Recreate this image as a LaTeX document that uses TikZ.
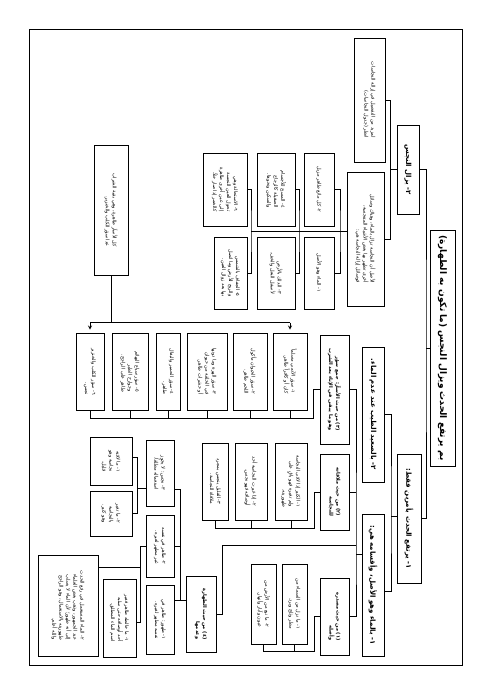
\documentclass[tikz,border=0pt]{standalone}
\usepackage{fontspec}
\newfontfamily\arfont[Script=Arabic]{DejaVu Sans}
\TeXXeTstate=1
\newcommand\arline[1]{\beginR #1\endR}
\tikzset{
  leaf/.style={draw, rotate=-90, line width=0.6pt, inner sep=1pt, align=right,
    font=\arfont\fontsize{4.9}{7}\selectfont},
  sub/.style={leaf, font=\arfont\bfseries\fontsize{5}{7}\selectfont},
  head/.style={leaf, line width=0.8pt, font=\arfont\bfseries\fontsize{7}{8.5}\selectfont},
  sz/.style 2 args={minimum width=#1pt, minimum height=#2pt},
  conn/.style={line width=0.9pt},
}
\begin{document}
\begin{tikzpicture}[x=1pt,y=-1pt]
\useasboundingbox (0,0) rectangle (491,695);
\draw[line width=0.8pt] (29,29) rectangle (462,665);

\node[head, sz={236}{25}, font=\arfont\bfseries\fontsize{9}{10}\selectfont] (T) at (442.5,348)
  {\arline{بم يرتفع الحدث ويزال النجس (ما تكون به الطهارة)}};
\node[head, sz={89}{22}] (B) at (408,169.5) {\arline{٢- يزال النجس}};
\node[head, sz={129}{24}] (C) at (409,518.5) {\arline{١- يرتفع الحدث بأمرين فقط:}};

\node[leaf, sz={124}{31}] (A) at (369.5,100)
  {\arline{لمزيد من التفصيل في إزالة النجاسات}\\\arline{انظر (جدول النجاسات)}};
\node[leaf, sz={134}{37}] (F) at (365.5,239)
  {\arline{الأصل أن النجاسة تزال بالماء، وهناك وسائل}\\\arline{أخرى تطهر بها بعض الأشياء المتنجسة،}\\\arline{فوسائل إزالة النجاسة هي:}};
\node[head, sz={135}{22}] (E) at (373,414.5) {\arline{٢- بالصعيد الطيب عند عدم الماء.}};
\node[head, sz={142}{22}] (D) at (373,585) {\arline{١- بالماء وهو الأصل، وأقسامه هي:}};

\node[leaf, sz={72}{30}] (F1) at (319,273) {\arline{١- الماء وهو الأصل}};
\node[leaf, sz={73}{30}] (F2) at (319,189.5) {\arline{٢- كل مائع طاهر مزيل}};
\node[leaf, sz={72}{38}] (F3) at (276,273)
  {\arline{٣- الدلك بالأرض}\\\arline{لأسفل النعل والخف.}};
\node[leaf, sz={73}{38}] (F4) at (276,189.5)
  {\arline{٤- المسح للأجسام}\\\arline{الصقيلة كالزجاج}\\\arline{والسكين ونحوها.}};
\node[leaf, sz={72}{33}] (F5) at (230.5,273)
  {\arline{٥- الجفاف بالشمس}\\\arline{والريح للأرض وما اتصل}\\\arline{بها بعد زوال العين.}};
\node[leaf, sz={73}{44}] (F6) at (225,189.5)
  {\arline{٦- الاستحالة وهي}\\\arline{تحول العين النجسة}\\\arline{إلى عين أخرى طاهرة}\\\arline{كالخمر إذا صار خلاً.}};

\node[leaf, sz={130}{34}] (G) at (111,210)
  {\arline{كل الأسآر طاهرة، وهي بقية الشراب}\\\arline{عدا سؤر الكلب والخنزير.}};
\node[leaf, sz={77}{28}] (H1) at (90,371.5) {\arline{٦- سؤر الكلب والخنزير}\\\arline{نجس.}};
\node[leaf, sz={77}{36}] (H2) at (130,371.5)
  {\arline{٥- سؤر سباع البهائم}\\\arline{وجوارح الطير}\\\arline{طاهر على الراجح.}};
\node[leaf, sz={77}{24}] (H3) at (168,371.5) {\arline{٤- سؤر الحمير والبغال}\\\arline{طاهر.}};
\node[leaf, sz={77}{40}] (H4) at (207,371.5)
  {\arline{٣- سؤر الهرة وما دونها}\\\arline{في الخلقة من حيوان}\\\arline{أو حشرات طاهر.}};
\node[leaf, sz={77}{34}] (H5) at (250,371.5) {\arline{٢- سؤر الحيوان مأكول}\\\arline{اللحم طاهر.}};
\node[leaf, sz={77}{34}] (H6) at (290,371.5) {\arline{١- سؤر الآدمي مسلماً}\\\arline{كان أو كافراً طاهر.}};

\node[sub, sz={109}{29}] (I) at (334.5,389.5)
  {\arline{(٣) من حيث الأسآر: جمع سؤر}\\\arline{وهو ما يبقى في الإناء بعد الشرب}};
\node[sub, sz={76}{29}] (J) at (334.5,492) {\arline{(٢) من حيث ملاقاته}\\\arline{للنجاسة}};
\node[sub, sz={77}{29}] (L) at (334.5,616.5) {\arline{(١) من حيث مصدره}\\\arline{وأصله}};
\node[sub, sz={76}{30}] (K) at (201,614) {\arline{(٤) من حيث الطهارة}\\\arline{وعدمها}};

\node[leaf, sz={77}{32}] (J1) at (291,481.5)
  {\arline{١- الكثير إذا لاقى النجاسة}\\\arline{ولم تغيره فهو باقٍ على}\\\arline{طهوريته.}};
\node[leaf, sz={77}{32}] (J2) at (251,481.5)
  {\arline{٢- إذا غيرت النجاسة أحد}\\\arline{أوصافه فهو نجس.}};
\node[leaf, sz={77}{26}] (J3) at (215,481.5) {\arline{٣- القليل ينجس بمجرد}\\\arline{ملاقاة النجاسة.}};
\node[leaf, sz={80}{25}] (L1) at (294.5,604) {\arline{١- ما نزل من السماء من}\\\arline{مطر وثلج وبرد.}};
\node[leaf, sz={80}{25}] (L2) at (263.5,604) {\arline{٢- ما نبع من الأرض من}\\\arline{عيون وآبار وأنهار.}};

\node[leaf, sz={69}{28}] (K1) at (160,619.5) {\arline{١- طهور: طاهر في}\\\arline{نفسه مطهر لغيره.}};
\node[leaf, sz={62}{28}] (K2) at (160,546) {\arline{٢- طاهر في نفسه}\\\arline{غير مطهر لغيره.}};
\node[leaf, sz={66}{28}] (K3) at (160,473) {\arline{٣- نجس: لا يجوز}\\\arline{استعماله مطلقاً.}};
\node[leaf, sz={48}{42}] (K31) at (111,461) {\arline{١- ما لاقته}\\\arline{نجاسة وهو}\\\arline{قليل.}};
\node[leaf, sz={45}{42}] (K32) at (111,513.5) {\arline{٢- ما تغير}\\\arline{بالنجاسة}\\\arline{وهو كثير.}};
\node[leaf, sz={78}{33}] (K22) at (119.5,618)
  {\arline{١- ما خالطه طاهر فغير}\\\arline{أحد أوصافه حتى سلبه}\\\arline{اسم الماء المطلق.}};
\node[leaf, sz={101}{60}] (K21) at (68,605.5)
  {\arline{٢- الماء المستعمل في رفع الحدث}\\\arline{عند الجمهور، وذهب بعض العلماء}\\\arline{إلى أنه طهور؛ لأن الماء لا يسلب}\\\arline{طهوريته بالاستعمال، وهو الراجح}\\\arline{والله أعلم.}};

\draw[conn] (T.south) -- (426,348);
\draw[conn] (B.north) -| (426,348) |- (C.north);
\draw[conn] (B.south) -- (390.5,169.5);
\draw[conn] (A.north) -| (390.5,169.5) |- (F.north);
\draw[conn] (F.south |- 0,231) -- (251,231);
\draw[conn] (F1.north) -| (340,231) |- (F2.north);
\draw[conn] (F3.north) -| (299,231) |- (F4.north);
\draw[conn] (F5.north) -| (251,231) |- (F6.north);

\draw[conn] (G.east) -- (G.east |- 0,322.7);
\draw[conn] (H1.west |- 0,322.7) -- (H6.west |- 0,322.7);
\draw[conn,->,>=stealth] (H1.west |- 0,322.7) -- ([yshift=3pt]H1.west);
\draw[conn,->,>=stealth] (H6.west |- 0,322.7) -- ([yshift=3pt]H6.west);
\foreach \n in {1,...,6}
  \draw[conn] (H\n.east) -- (H\n.east |- 0,418.3);
\draw[conn] (H1.east |- 0,418.3) -- (313,418.3) |- (I.south);

\draw[conn] (C.south |- 0,516.7) -- (391,516.7);
\draw[conn] (E.north) -| (391,516.7) |- (D.north |- 0,591.7);
\draw[conn] (I.north) -| (356,554) |- (L.north);
\draw[conn] (J.north) -- (J.north -| 356,0);
\draw[conn] (D.south |- 0,554) -- (356,554);
\draw[conn] (356,545.7) -| ([xshift=6pt]K.north) -- (K.north);

\draw[conn] (J.south) -| (314,528.3) -- (J3.east |- 0,528.3);
\foreach \n in {1,2,3}
  \draw[conn] (J\n.east) -- (J\n.east |- 0,528.3);
\draw[conn] (L.south) -| (314,651.7) -- (L2.east |- 0,651.7);
\foreach \n in {1,2}
  \draw[conn] (L\n.east) -- (L\n.east |- 0,651.7);

\draw[conn] (K.south |- 0,600) -- (180,600);
\draw[conn] (K3.north |- 0,489) -| (180,600) -- (K1.north |- 0,600);
\draw[conn] (K2.north) -- (K2.north -| 180,0);
\draw[conn] (K3.south |- 0,488) -- (137,488);
\draw[conn] (K31.north |- 0,457) -| (137,513) -- (K32.north |- 0,513);
\draw[conn] (K2.south) -| (140,622) -- (K22.north |- 0,622);
\draw[conn] (K21.north |- 0,567) -- (140,567);
\end{tikzpicture}
\end{document}
